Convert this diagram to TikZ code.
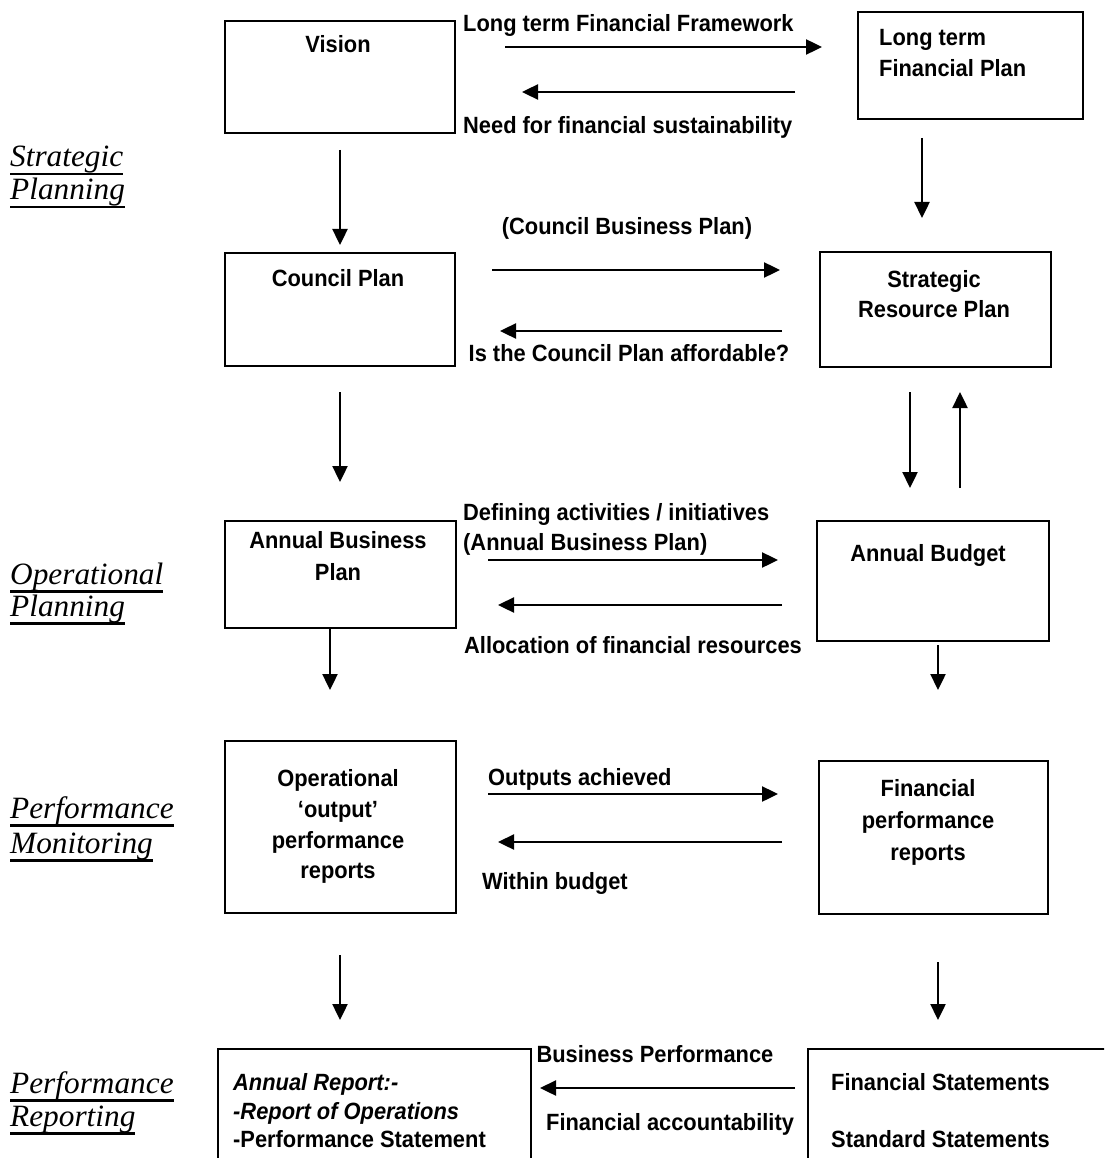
\documentclass[tikz,border=0pt]{standalone}
\usepackage{fontspec}
\usetikzlibrary{arrows.meta}
\newfontfamily\arialf{Liberation Sans}[FakeStretch=0.93]
\newfontfamily\serifit{Liberation Serif}[FakeStretch=1.01]
\newcommand\ulab[1]{\setbox0=\hbox{#1}\rlap{\rule[-8.5pt]{\wd0}{2.2pt}}\box0}
\tikzset{
  box/.style={draw, line width=1.9pt, inner sep=0pt, anchor=north west},
  txt/.style={font=\arialf\bfseries\fontsize{23.5}{30}\selectfont, inner sep=0pt, anchor=base},
  txtl/.style={txt, anchor=base west},
  txti/.style={txtl, font=\arialf\bfseries\itshape\fontsize{23.5}{30}\selectfont},
  lbl/.style={font=\serifit\itshape\fontsize{31}{35}\selectfont, inner sep=0pt, anchor=base west},
  arr/.style={line width=2.4pt, -{Triangle[length=16pt,width=15pt]}},
}
\begin{document}
\begin{tikzpicture}[x=1pt,y=-1pt]
\clip (0,0) rectangle (1104,1158);
\fill[white] (0,0) rectangle (1104,1158);

% ---------- Strategic planning ----------
\node[box, minimum width=230pt, minimum height=112pt] (vision) at (224,20) {};
\node[txt] (visiont) at (338,53) {Vision};
\node[txtl] (lfft) at (463,32) {Long term Financial Framework};
\node[txtl] (nfst) at (463,134) {Need for financial sustainability};
\node[box, minimum width=225pt, minimum height=107pt] (ltfp) at (857,11) {};
\node[txtl] (ltfp1) at (879,46) {Long term};
\node[txtl] (ltfp2) at (879,77) {Financial Plan};
\coordinate (a1s) at (505,47); \coordinate (a1e) at (822,47);
\coordinate (a2s) at (795,92); \coordinate (a2e) at (522,92);
\draw[arr] (a1s) -- (a1e);
\draw[arr] (a2s) -- (a2e);

\node[lbl] (sp1) at (10,167) {\ulab{Strategic}};
\node[lbl] (sp2) at (10,200) {\ulab{Planning}};

\coordinate (d1s) at (340,150); \coordinate (d1e) at (340,245);
\coordinate (d2s) at (922,138); \coordinate (d2e) at (922,218);
\draw[arr] (d1s) -- (d1e);
\draw[arr] (d2s) -- (d2e);

\node[txt] (cbpt) at (627,235) {(Council Business Plan)};
\node[box, minimum width=230pt, minimum height=113pt] (council) at (224,252) {};
\node[txt] (councilt) at (338,286) {Council Plan};
\coordinate (a3s) at (492,270); \coordinate (a3e) at (780,270);
\coordinate (a4s) at (782,331); \coordinate (a4e) at (500,331);
\draw[arr] (a3s) -- (a3e);
\draw[arr] (a4s) -- (a4e);
\node[txt] (afft) at (629,361) {Is the Council Plan affordable?};
\node[box, minimum width=231pt, minimum height=115pt] (srp) at (819,251) {};
\node[txt] (srp1) at (934,287) {Strategic};
\node[txt] (srp2) at (934,317) {Resource Plan};

\coordinate (d3s) at (340,392); \coordinate (d3e) at (340,482);
\coordinate (d4s) at (910,392); \coordinate (d4e) at (910,488);
\coordinate (u1s) at (960,488); \coordinate (u1e) at (960,392);
\draw[arr] (d3s) -- (d3e);
\draw[arr] (d4s) -- (d4e);
\draw[arr] (u1s) -- (u1e);

% ---------- Operational planning ----------
\node[txtl] (dait) at (463,520) {Defining activities / initiatives};
\node[txtl] (abpt) at (463,550) {(Annual Business Plan)};
\node[box, minimum width=231pt, minimum height=107pt] (abp) at (224,520) {};
\node[txt] (abp1) at (338,548) {Annual Business};
\node[txt] (abp2) at (338,580) {Plan};
\node[box, minimum width=232pt, minimum height=120pt] (budget) at (816,520) {};
\node[txt] (budgett) at (928,561) {Annual Budget};
\coordinate (a5s) at (488,560); \coordinate (a5e) at (778,560);
\coordinate (a6s) at (782,605); \coordinate (a6e) at (498,605);
\draw[arr] (a5s) -- (a5e);
\draw[arr] (a6s) -- (a6e);
\node[txt] (alloct) at (633,653) {Allocation of financial resources};

\node[lbl] (op1) at (10,584) {\ulab{Operational}};
\node[lbl] (op2) at (10,616) {\ulab{Planning}};

\coordinate (d5e) at (330,690);
\draw[arr] (abp.south -| d5e) -- (d5e);
\coordinate (d6s) at (938,645); \coordinate (d6e) at (938,690);
\draw[arr] (d6s) -- (d6e);

% ---------- Performance monitoring ----------
\node[box, minimum width=231pt, minimum height=172pt] (oper) at (224,740) {};
\node[txt] (oper1) at (338,786) {Operational};
\node[txt] (oper2) at (338,817) {‘output’};
\node[txt] (oper3) at (338,848) {performance};
\node[txt] (oper4) at (338,878) {reports};
\node[txtl] (outt) at (488,785) {Outputs achieved};
\coordinate (a7s) at (488,794); \coordinate (a7e) at (778,794);
\coordinate (a8s) at (782,842); \coordinate (a8e) at (498,842);
\draw[arr] (a7s) -- (a7e);
\draw[arr] (a8s) -- (a8e);
\node[txtl] (wbt) at (482,889) {Within budget};
\node[box, minimum width=229pt, minimum height=153pt] (fpr) at (818,760) {};
\node[txt] (fpr1) at (928,796) {Financial};
\node[txt] (fpr2) at (928,828) {performance};
\node[txt] (fpr3) at (928,860) {reports};

\node[lbl] (pm1) at (10,818) {\ulab{Performance}};
\node[lbl] (pm2) at (10,853) {\ulab{Monitoring}};

\coordinate (d7s) at (340,955); \coordinate (d7e) at (340,1020);
\coordinate (d8s) at (938,962); \coordinate (d8e) at (938,1020);
\draw[arr] (d7s) -- (d7e);
\draw[arr] (d8s) -- (d8e);

% ---------- Performance reporting ----------
\node[box, minimum width=313pt, minimum height=160pt] (arep) at (217,1048) {};
\node[txti] (arep1) at (233,1090) {Annual Report:-};
\node[txti] (arep2) at (233,1119) {-Report of Operations};
\node[txtl] (arep3) at (233,1147) {-Performance Statement};
\node[txt] (bpt) at (655,1062) {Business Performance};
\coordinate (a9s) at (795,1088); \coordinate (a9e) at (540,1088);
\draw[arr] (a9s) -- (a9e);
\node[txtl] (fat) at (546,1130) {Financial accountability};
\node[box, minimum width=330pt, minimum height=160pt] (fst) at (807,1048) {};
\node[txtl] (fst1) at (831,1090) {Financial Statements};
\node[txtl] (fst2) at (831,1147) {Standard Statements};

\node[lbl] (pr1) at (10,1093) {\ulab{Performance}};
\node[lbl] (pr2) at (10,1126) {\ulab{Reporting}};
\end{tikzpicture}
\end{document}
